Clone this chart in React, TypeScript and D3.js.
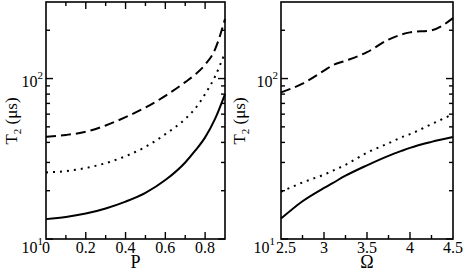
import React, { useEffect, useRef } from 'react';
import * as d3 from 'd3';

// left panel: T2 vs P
const pValues = [0, 0.1, 0.2, 0.3, 0.4, 0.5, 0.6, 0.7, 0.75, 0.8, 0.85, 0.9];
const pSolid = [13.3, 13.7, 14.4, 15.5, 17.1, 19.4, 23.3, 30, 35.5, 43, 56, 80];
const pDotted = [26, 26.5, 27.7, 29.7, 32.8, 37.5, 45, 56, 65, 80, 103, 145];
const pDashed = [43.4, 44.5, 46.6, 51, 57.5, 66, 78, 95, 106, 122, 152, 235];
const pTicks = ['0', '0.2', '0.4', '0.6', '0.8'];

// right panel: T2 vs Omega
const omegaValues = [2.5, 2.75, 3.0, 3.1, 3.25, 3.5, 3.75, 3.9, 4.0, 4.25, 4.5];
const omegaSolid = [13.4, 17.2, 20.8, 22.3, 24.8, 28.8, 33, 35.4, 37, 40.3, 43.2];
const omegaDotted = [19.7, 22.5, 25.2, 26.6, 29, 34.5, 39.5, 43, 45, 52, 60];
const omegaDashed = [82, 93, 112, 121, 129, 146, 175, 188, 194, 200, 238];
const omegaTicks = ['2.5', '3', '3.5', '4', '4.5'];

const yMajor = [10, 100];
const yMinor = [20, 30, 40, 50, 60, 70, 80, 90, 200];

const FONT = "'Times New Roman', 'Liberation Serif', 'DejaVu Serif', serif";

const App = () => {
  const ref = useRef(null);

  useEffect(() => {
    const svg = d3.select(ref.current);
    svg.selectAll('*').remove();

    const panels = [
      {
        left: 46, right: 225, xs: pValues, domain: [0, 0.9], ticks: pTicks,
        minor: 0.1, series: [pSolid, pDotted, pDashed], title: 'P',
        yTitleX: 17, topTicks: true, firstShift: 0, lowLabelShift: 0,
      },
      {
        left: 281, right: 453, xs: omegaValues, domain: [2.5, 4.5], ticks: omegaTicks,
        minor: 0.25, series: [omegaSolid, omegaDotted, omegaDashed], title: 'Ω',
        yTitleX: 245, topTicks: false, firstShift: 5, lowLabelShift: 3,
      },
    ];
    const top = 2;
    const bottom = 239;
    const dashes = [null, '2,5', '10,5'];

    panels.forEach(p => {
      const x = d3.scaleLinear().domain(p.domain).range([p.left, p.right]);
      const y = d3.scaleLog().domain([10, 300]).range([bottom, top]);
      const g = svg.append('g');

      // curves
      p.series.forEach((vals, i) => {
        const line = d3.line<number>()
          .x((_, j) => x(p.xs[j]))
          .y(d => y(d))
          .curve(d3.curveMonotoneX);
        g.append('path')
          .attr('d', line(vals))
          .attr('fill', 'none')
          .attr('stroke', '#000')
          .attr('stroke-width', 2)
          .attr('stroke-dasharray', dashes[i]);
      });

      // frame
      g.append('rect')
        .attr('x', p.left).attr('y', top)
        .attr('width', p.right - p.left).attr('height', bottom - top)
        .attr('fill', 'none').attr('stroke', '#000').attr('stroke-width', 1.6);

      // x ticks
      const [d0, d1] = p.domain;
      const nMinor = Math.round((d1 - d0) / p.minor);
      for (let k = 1; k < nMinor; k++) {
        const v = d0 + k * p.minor;
        const major = p.ticks.some(t => Math.abs(+t - v) < 1e-6);
        const len = major ? 7 : 4;
        g.append('line')
          .attr('x1', x(v)).attr('x2', x(v))
          .attr('y1', bottom).attr('y2', bottom - len)
          .attr('stroke', '#000').attr('stroke-width', 1.4);
        if (p.topTicks) {
          g.append('line')
            .attr('x1', x(v)).attr('x2', x(v))
            .attr('y1', top).attr('y2', top + len)
            .attr('stroke', '#000').attr('stroke-width', 1.4);
        }
      }
      p.ticks.forEach((t, i) => {
        g.append('text')
          .attr('x', x(+t) + (i === 0 ? p.firstShift : 0))
          .attr('y', 253)
          .attr('text-anchor', 'middle')
          .attr('font-family', FONT)
          .attr('font-size', 16)
          .text(t);
      });
      g.append('text')
        .attr('x', (p.left + p.right) / 2)
        .attr('y', 268)
        .attr('text-anchor', 'middle')
        .attr('font-family', FONT)
        .attr('font-size', 18)
        .text(p.title);

      // y ticks, both sides
      [...yMajor, ...yMinor].forEach(v => {
        const len = yMajor.includes(v) ? 7 : 4;
        [[p.left, 1], [p.right, -1]].forEach(([edge, dir]) => {
          g.append('line')
            .attr('x1', edge).attr('x2', edge + dir * len)
            .attr('y1', y(v)).attr('y2', y(v))
            .attr('stroke', '#000').attr('stroke-width', 1.4);
        });
      });
      yMajor.forEach((v, i) => {
        const t = g.append('text')
          .attr('x', p.left - 3 - (i === 0 ? p.lowLabelShift : 0))
          .attr('y', y(v) + (i === 0 ? 14 : 8))
          .attr('text-anchor', 'end')
          .attr('font-family', FONT)
          .attr('font-size', 16);
        t.append('tspan').text('10');
        t.append('tspan').attr('font-size', 11).attr('dy', -8).text(String(i + 1));
      });

      // y title
      const yt = g.append('text')
        .attr('transform', `translate(${p.yTitleX},121) rotate(-90)`)
        .attr('text-anchor', 'middle')
        .attr('font-family', FONT)
        .attr('font-size', 17);
      yt.append('tspan').text('T');
      yt.append('tspan').attr('font-size', 11).attr('dy', 4).text('2');
      yt.append('tspan').attr('dy', -4).text(' (μs)');
    });
  }, []);

  return (
    <svg
      ref={ref}
      width={463}
      height={273}
      style={{ position: 'absolute', left: 0, top: 0, background: '#fff' }}
    />
  );
};

export default App;
